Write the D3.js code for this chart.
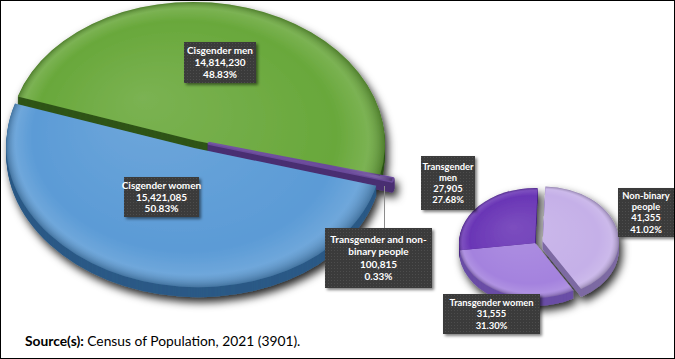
<!DOCTYPE html>
<html><head><meta charset="utf-8">
<script src="https://cdn.jsdelivr.net/npm/d3@7"></script>
<style>html,body{margin:0;padding:0;background:#fff}svg{display:block}</style>
</head><body>
<script>
// ---- data ----
const mainCategories = ["Cisgender men", "Transgender and non-binary people", "Cisgender women"];
const mainValues = [14814230, 100815, 15421085];
const mainPercents = ["48.83%", "0.33%", "50.83%"];
const mainLabelLines = [["Cisgender men"], ["Transgender and non-", "binary people"], ["Cisgender women"]];

const subCategories = ["Non-binary people", "Transgender women", "Transgender men"];
const subValues = [41355, 31555, 27905];
const subPercents = ["41.02%", "31.30%", "27.68%"];
const subLabelLines = [["Non-binary", "people"], ["Transgender women"], ["Transgender", "men"]];

const sourceBold = "Source(s):";
const sourceText = " Census of Population, 2021 (3901).";

// ---- layout / style ----
const W = 675, H = 359;
const fmt = d3.format(",");
const svg = d3.select("body").append("svg").attr("width", W).attr("height", H);
const defs = svg.append("defs");

const shadow = defs.append("filter").attr("id", "pieShadow").attr("x", "-20%").attr("y", "-20%").attr("width", "150%").attr("height", "150%");
shadow.append("feDropShadow").attr("dx", 3).attr("dy", 5).attr("stdDeviation", 4).attr("flood-color", "#000").attr("flood-opacity", 0.85);
const boxShadow = defs.append("filter").attr("id", "boxShadow").attr("x", "-20%").attr("y", "-20%").attr("width", "150%").attr("height", "150%");
boxShadow.append("feDropShadow").attr("dx", 2).attr("dy", 2).attr("stdDeviation", 1.5).attr("flood-color", "#000").attr("flood-opacity", 0.5);

const pat = defs.append("pattern").attr("id", "dots").attr("width", 3).attr("height", 3).attr("patternUnits", "userSpaceOnUse");
pat.append("rect").attr("width", 3).attr("height", 3).attr("fill", "#3a3a3a");
pat.append("rect").attr("x", 1).attr("y", 1).attr("width", 1).attr("height", 1).attr("fill", "#4d4d4d");

function makeShade(id, r) {
  const g = defs.append("radialGradient").attr("id", id).attr("gradientUnits", "userSpaceOnUse")
    .attr("cx", 0).attr("cy", 0).attr("r", r).attr("fx", -r * 0.3).attr("fy", -r * 0.3);
  g.append("stop").attr("offset", 0).attr("stop-color", "#fff").attr("stop-opacity", 0.12);
  g.append("stop").attr("offset", 0.8).attr("stop-color", "#fff").attr("stop-opacity", 0);
  g.append("stop").attr("offset", 0.93).attr("stop-color", "#fff").attr("stop-opacity", 0.12);
  g.append("stop").attr("offset", 1).attr("stop-color", "#000").attr("stop-opacity", 0.25);
}

function drawPie(opts) {
  const { values, tops, sides, cx, cy, rx, ry, rot, start, explode, depth, shadeId, widen } = opts;
  makeShade(shadeId, rx);
  const arcs = d3.pie().sort(null).startAngle(start).endAngle(start + 2 * Math.PI)(values);
  const arc = d3.arc().innerRadius(0).outerRadius(rx);
  const root = svg.append("g").attr("filter", "url(#pieShadow)");
  const off = d => {
    const m = (d.startAngle + d.endAngle) / 2, e = explode[d.index];
    return `translate(${Math.sin(m) * e},${-Math.cos(m) * e})`;
  };
  const frame = dy => `translate(${cx},${cy + dy}) rotate(${rot}) scale(1,${ry / rx})`;
  for (let k = depth; k >= 1; k--) {
    root.append("g").attr("transform", frame(k)).selectAll("path").data(arcs).join("path")
      .attr("d", arc).attr("transform", off).attr("fill", d => sides[d.index])
      .attr("stroke", d => widen[d.index] ? sides[d.index] : "none").attr("stroke-width", d => widen[d.index])
      .attr("stroke-linejoin", "round");
  }
  const top = root.append("g").attr("transform", frame(0));
  top.selectAll("path.t").data(arcs).join("path").attr("class", "t")
    .attr("d", arc).attr("transform", off).attr("fill", d => tops[d.index])
    .attr("stroke", d => widen[d.index] ? tops[d.index] : "none").attr("stroke-width", d => widen[d.index])
    .attr("stroke-linejoin", "round");
  top.selectAll("path.s").data(arcs).join("path").attr("class", "s")
    .attr("d", arc).attr("transform", off).attr("fill", `url(#${shadeId})`);
}

const deg = Math.PI / 180;
drawPie({
  values: mainValues, tops: ["#69a83b", "#6a4a9a", "#5b9bd6"], sides: ["#2f5418", "#4a2f72", "#2b5a86"],
  cx: 197, cy: 141, rx: 188, ry: 139, rot: 2, start: -74 * deg,
  explode: [0, 13, 10], depth: 10, shadeId: "shadeMain", widen: [0, 4, 0]
});
drawPie({
  values: subValues, tops: ["#c5b0e8", "#a482de", "#6a36b6"], sides: ["#7d6aa3", "#6a4ea6", "#45227f"],
  cx: 535, cy: 243, rx: 76, ry: 55, rot: 0, start: 2 * deg,
  explode: [8, 0, 0], depth: 8, shadeId: "shadeSub", widen: [0, 0, 0]
});

// leader line for small slice
svg.append("line").attr("x1", 384.5).attr("x2", 384.5).attr("y1", 186).attr("y2", 228)
  .attr("stroke", "#8c8c8c").attr("stroke-width", 1);

// ---- labels ----
function label(box, lines, fs, lh) {
  const g = svg.append("g");
  g.append("rect").attr("x", box[0]).attr("y", box[1]).attr("width", box[2]).attr("height", box[3])
    .attr("fill", "url(#dots)").attr("filter", "url(#boxShadow)");
  const cxm = box[0] + box[2] / 2;
  const total = lines.length * lh;
  const y0 = box[1] + (box[3] - total) / 2 + lh / 2 + fs * 0.36;
  g.selectAll("text").data(lines).join("text")
    .attr("x", cxm).attr("y", (d, i) => y0 + i * lh)
    .attr("text-anchor", "middle").attr("fill", "#fff")
    .attr("font-family", "Lato, 'Open Sans', sans-serif").attr("font-weight", "bold")
    .attr("font-size", fs).text(d => d);
}
const mainBoxes = [[184, 42, 72, 41], [325, 228, 107, 60], [124, 177, 75, 40]];
mainCategories.forEach((c, i) => {
  label(mainBoxes[i], [...mainLabelLines[i], fmt(mainValues[i]), mainPercents[i]], 10, i === 1 ? 12.3 : 11.8);
});
const subBoxes = [[618, 188, 56, 49], [443, 294, 97, 40], [421, 156, 54, 54]];
subCategories.forEach((c, i) => {
  label(subBoxes[i], [...subLabelLines[i], fmt(subValues[i]), subPercents[i]], 9.4, i === 1 ? 11.5 : 11.2);
});

// ---- source ----
const src = svg.append("text").attr("x", 25).attr("y", 346)
  .attr("font-family", "Lato, 'Open Sans', sans-serif").attr("font-size", 13.8).attr("fill", "#000");
src.append("tspan").attr("font-weight", "bold").text(sourceBold);
src.append("tspan").text(sourceText);

// border
svg.append("rect").attr("x", 0.5).attr("y", 0.5).attr("width", W - 1).attr("height", H - 1)
  .attr("fill", "none").attr("stroke", "#000").attr("stroke-width", 1);
</script>
</body></html>
